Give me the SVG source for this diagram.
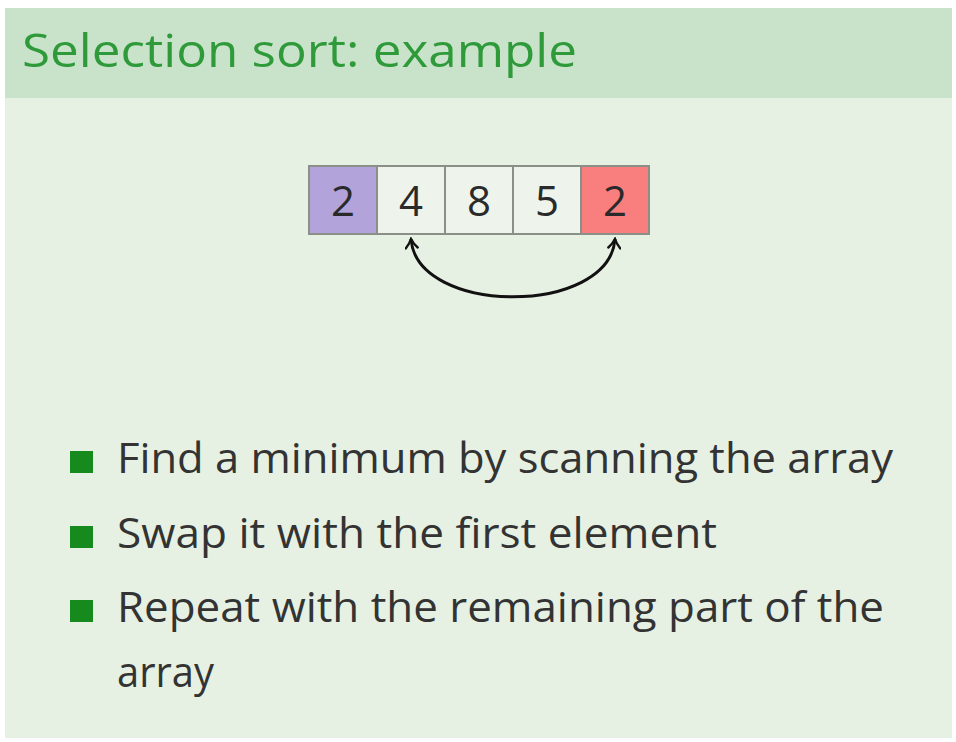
<svg xmlns="http://www.w3.org/2000/svg" width="956" height="742" viewBox="0 0 956 742">
<defs>
<style>
.cell{stroke:#8a8f88;stroke-width:2}
.num{font-family:"Open Sans","DejaVu Sans",sans-serif;font-size:42px;fill:#2a2a2a;text-anchor:middle}
.txt{font-family:"Open Sans","DejaVu Sans",sans-serif;font-size:42px;fill:#333333}
.bul{fill:#178a1d}
</style>
<marker id="ah" viewBox="0 0 14 14" refX="12" refY="7" markerWidth="14" markerHeight="14" markerUnits="userSpaceOnUse" orient="auto-start-reverse">
<path d="M3,1 Q7,5 12,7 Q7,9 3,13" fill="none" stroke="#111" stroke-width="2.4" stroke-linecap="round"/>
</marker>
</defs>
<rect width="956" height="742" fill="#ffffff"/>
<rect x="5" y="8" width="947" height="730" fill="#e6f1e3"/>
<rect x="5" y="8" width="947" height="90" fill="#c9e3cb"/>
<text x="22" y="67" font-family="Open Sans, DejaVu Sans, sans-serif" font-size="46" fill="#2f9a3a" textLength="555" lengthAdjust="spacingAndGlyphs">Selection sort: example</text>
<g id="cell0"><rect class="cell" x="309" y="166" width="68" height="68" fill="#b2a4da"/><text class="num" x="343" y="216" fill="#2b2350">2</text></g>
<g id="cell1"><rect class="cell" x="377" y="166" width="68" height="68" fill="#eef4eb"/><text class="num" x="411" y="216">4</text></g>
<g id="cell2"><rect class="cell" x="445" y="166" width="68" height="68" fill="#eef4eb"/><text class="num" x="479" y="216">8</text></g>
<g id="cell3"><rect class="cell" x="513" y="166" width="68" height="68" fill="#eef4eb"/><text class="num" x="547" y="216">5</text></g>
<g id="cell4"><rect class="cell" x="581" y="166" width="68" height="68" fill="#f97f7f"/><text class="num" x="615" y="216" fill="#5a1515">2</text></g>
<g id="connectors">
<path d="M411,239 C417,316 609,316 615,239" fill="none" stroke="#111" stroke-width="3" marker-start="url(#ah)" marker-end="url(#ah)"/>
</g>
<g id="bullets">
<rect class="bul" x="70" y="451" width="23" height="22"/>
<text class="txt" x="117" y="473" textLength="776" lengthAdjust="spacingAndGlyphs">Find a minimum by scanning the array</text>
<rect class="bul" x="70" y="526" width="23" height="22"/>
<text class="txt" x="117" y="548" textLength="600" lengthAdjust="spacingAndGlyphs">Swap it with the first element</text>
<rect class="bul" x="70" y="600" width="23" height="22"/>
<text class="txt" x="117" y="622" textLength="767" lengthAdjust="spacingAndGlyphs">Repeat with the remaining part of the</text>
<text class="txt" x="117" y="687" textLength="97" lengthAdjust="spacingAndGlyphs">array</text>
</g>
</svg>
